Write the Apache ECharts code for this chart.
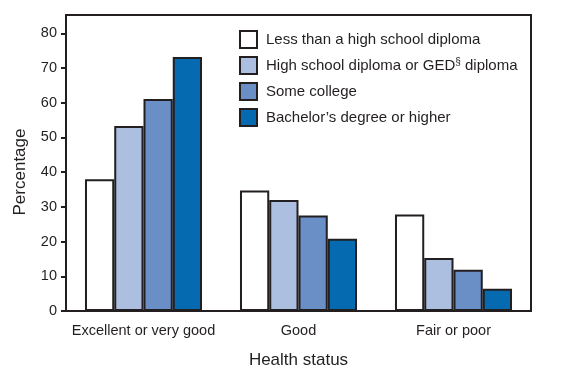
<!DOCTYPE html>
<html><head><meta charset="utf-8">
<script src="https://cdn.jsdelivr.net/npm/echarts@6/dist/echarts.min.js"></script>
<style>html,body{margin:0;padding:0;background:#fff}#c{width:571px;height:375px}</style>
</head><body><div id="c"></div>
<script>
var categories = ['Excellent or very good', 'Good', 'Fair or poor'];
var seriesNames = ['Less than a high school diploma', 'High school diploma or GED§ diploma', 'Some college', "Bachelor’s degree or higher"];
var lessThanHS = [38.0, 34.7, 27.8];
var hsOrGED = [53.3, 32.0, 15.3];
var someCollege = [61.1, 27.5, 11.9];
var bachelors = [73.2, 20.8, 6.4];
var yTicks = [0, 10, 20, 30, 40, 50, 60, 70, 80];
var colors = ['#ffffff', '#acbfe0', '#6a8ec6', '#066ab1'];
var allValues = [lessThanHS, hsOrGED, someCollege, bachelors];
var ink = '#231f20';
var font = 'Liberation Sans, Arial, Helvetica, sans-serif';

var chart = echarts.init(document.getElementById('c'), null, {renderer: 'canvas'});
chart.setOption({
  animation: false,
  grid: {left: 66, right: 40, top: 15, bottom: 64, show: true, borderColor: ink, borderWidth: 2, backgroundColor: 'transparent'},
  legend: {
    orient: 'vertical', left: 239, top: 30, padding: 0, itemWidth: 17, itemHeight: 17, itemGap: 7,
    icon: 'rect',
    data: seriesNames,
    textStyle: {fontFamily: font, fontSize: 15, lineHeight: 17, color: ink, padding: [0, 0, 0, 4],
      rich: {sup: {fontFamily: font, fontSize: 10, lineHeight: 17, color: ink, verticalAlign: 'top', padding: [0, 0, 6, 0]}}},
    formatter: function (n) { return n.replace('§', '{sup|§}'); }
  },
  xAxis: {
    type: 'category', data: categories,
    name: 'Health status', nameLocation: 'middle', nameGap: 41,
    nameTextStyle: {fontFamily: font, fontSize: 17, color: ink},
    axisLine: {lineStyle: {color: ink, width: 2}},
    axisTick: {show: false},
    axisLabel: {fontFamily: font, fontSize: 14.5, color: ink, margin: 12, interval: 0},
    splitLine: {show: false}
  },
  yAxis: {
    type: 'value', min: 0, max: 85.3,
    axisLine: {show: true, lineStyle: {color: ink, width: 2}},
    axisTick: {show: true, length: 5, lineStyle: {color: ink, width: 2}, customValues: yTicks},
    axisLabel: {fontFamily: font, fontSize: 14.5, color: ink, margin: 9, customValues: yTicks},
    splitLine: {show: false}
  },
  graphic: [{
    type: 'text', x: 20, y: 172, rotation: Math.PI / 2,
    style: {text: 'Percentage', fontFamily: font, fontSize: 17, fill: ink, align: 'center', verticalAlign: 'middle'}
  }],
  series: seriesNames.map(function (n, i) {
    return {
      name: n, type: 'bar', data: allValues[i],
      barGap: '0%', barCategoryGap: '24.5%',
      itemStyle: {color: colors[i], borderColor: ink, borderWidth: 2}
    };
  })
});
</script></body></html>
